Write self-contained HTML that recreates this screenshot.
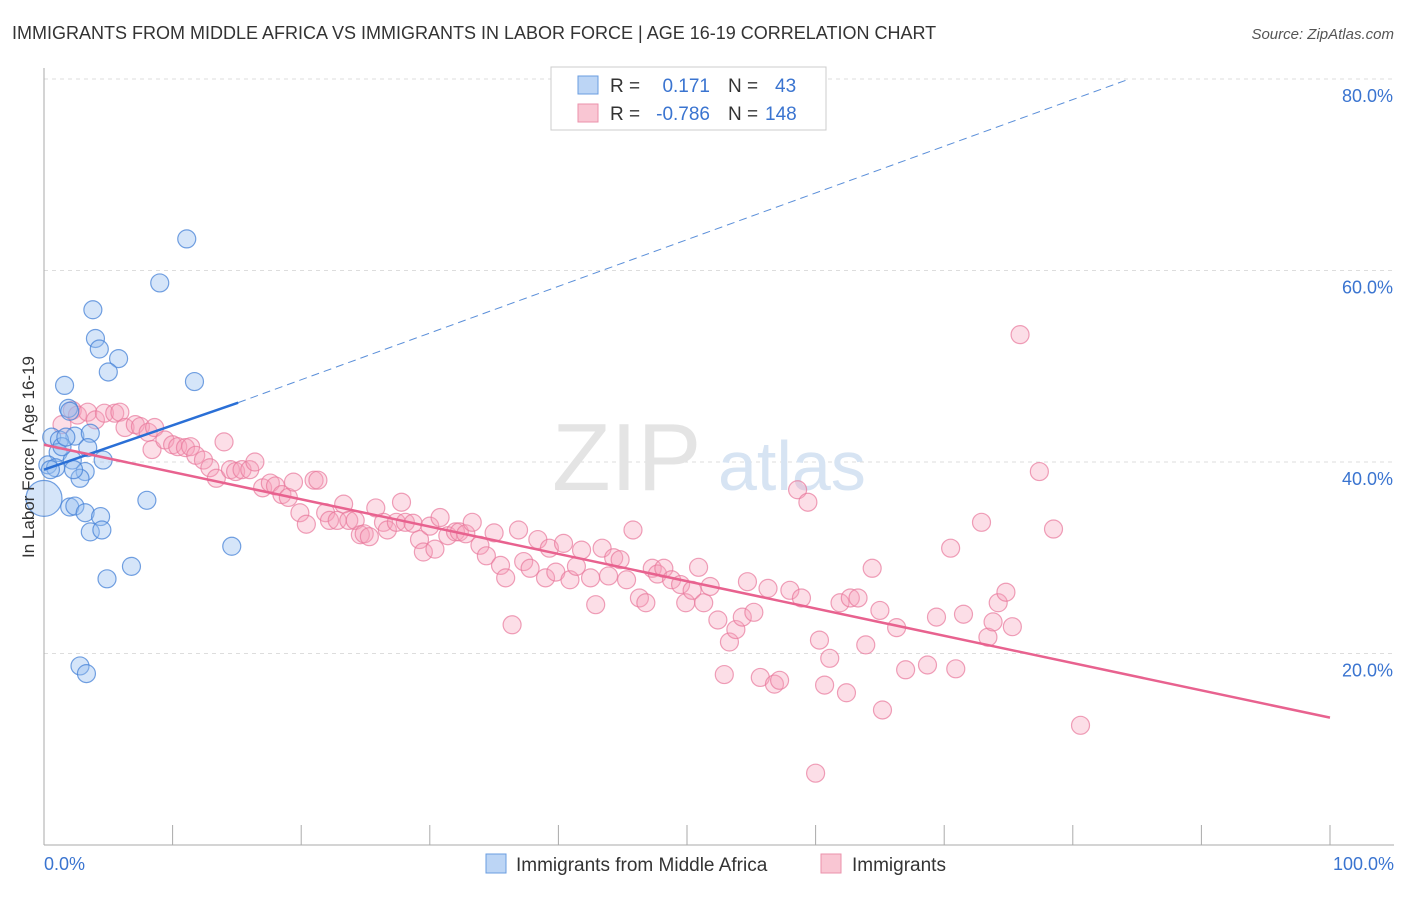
<!DOCTYPE html>
<html><head><meta charset="utf-8"><style>
body{margin:0;background:#fff;font-family:"Liberation Sans",sans-serif}
svg text{font-family:"Liberation Sans",sans-serif}
</style></head><body>
<svg id="chart" width="1406" height="892" xmlns="http://www.w3.org/2000/svg">
<text x="12" y="39" font-size="18" fill="#333">IMMIGRANTS FROM MIDDLE AFRICA VS IMMIGRANTS IN LABOR FORCE | AGE 16-19 CORRELATION CHART</text>
<text x="1394" y="39" font-size="15" fill="#555" text-anchor="end" font-style="italic">Source: ZipAtlas.com</text>
<g id="grid"></g>
<text x="552" y="490" font-size="96" fill="#e4e4e4" font-family="Liberation Serif">ZIP</text>
<text x="718" y="490" font-size="70" fill="#d7e4f3">atlas</text>
<g id="pink"></g>
<g id="blue"></g>
<g id="trends"></g>
<text transform="translate(34,457) rotate(-90)" font-size="17" fill="#333" text-anchor="middle">In Labor Force | Age 16-19</text>
<g>
<rect x="551" y="67" width="275" height="63" fill="#fff" stroke="#ccc"/>
<rect x="578" y="76" width="20" height="18" fill="#bcd5f5" stroke="#6a9de0"/>
<rect x="578" y="104" width="20" height="18" fill="#f9c6d3" stroke="#eb92ab"/>
<text x="610" y="92" font-size="19" fill="#333">R =</text>
<text x="710" y="92" font-size="19" fill="#3a74d0" text-anchor="end">0.171</text>
<text x="728" y="92" font-size="19" fill="#333">N =</text>
<text x="775" y="92" font-size="19" fill="#3a74d0">43</text>
<text x="610" y="120" font-size="19" fill="#333">R =</text>
<text x="710" y="120" font-size="19" fill="#3a74d0" text-anchor="end">-0.786</text>
<text x="728" y="120" font-size="19" fill="#333">N =</text>
<text x="765" y="120" font-size="19" fill="#3a74d0">148</text>
</g>
<g>
<rect x="486" y="854" width="20" height="19" fill="#bcd5f5" stroke="#6a9de0"/>
<text x="516" y="871" font-size="19" fill="#333">Immigrants from Middle Africa</text>
<rect x="821" y="854" width="20" height="19" fill="#f9c6d3" stroke="#eb92ab"/>
<text x="852" y="871" font-size="19" fill="#333">Immigrants</text>
</g>
</svg>
<script>
const yTicks=[20,40,60,80];
const yTickLabels=["20.0%","40.0%","60.0%","80.0%"];
const xTicks=[0,10,20,30,40,50,60,70,80,90,100];
const blueX=[11.1,9.0,3.8,4.0,4.3,5.8,5.0,1.6,11.7,1.9,2.0,2.4,3.6,0.6,1.2,1.1,2.2,0.3,0.9,4.6,3.2,2.8,2.3,8.0,2.0,2.4,3.2,4.4,3.6,4.5,14.6,6.8,4.9,2.8,3.3,0,1.4,0.5,3.4,1.7];
const blueY=[63.3,58.7,55.9,52.9,51.8,50.8,49.4,48.0,48.4,45.6,45.3,42.7,43.0,42.6,42.3,41.0,40.2,39.7,39.4,40.2,39.0,38.3,39.2,36.0,35.3,35.4,34.7,34.3,32.7,32.9,31.2,29.1,27.8,18.7,17.9,36.2,41.6,39.2,41.5,42.6];
const blueSize=[1,1,1,1,1,1,1,1,1,1,1,1,1,1,1,1,1,1,1,1,1,1,1,1,1,1,1,1,1,1,1,1,1,1,1,2,1,1,1,1];
const pinkX=[1.4,2.2,2.6,3.4,4.0,4.7,5.5,5.9,6.3,7.1,7.5,8.1,8.6,8.4,9.4,10.0,10.4,11.0,11.4,11.8,12.4,12.9,13.4,14.0,14.5,14.9,15.4,16.0,16.4,17.0,17.6,18.0,18.5,19.0,19.4,19.9,20.4,21.0,21.3,21.9,22.2,22.8,23.3,23.7,24.2,24.6,24.9,25.3,25.8,26.4,26.7,27.4,27.8,28.1,28.7,29.2,29.5,30.0,30.4,30.8,31.4,32.0,32.3,32.8,33.3,33.9,34.4,35.0,35.5,35.9,36.4,36.9,37.3,37.8,38.4,39.0,39.3,39.8,40.4,40.9,41.4,41.8,42.5,42.9,43.4,43.9,44.3,44.8,45.3,45.8,46.3,46.8,47.3,47.7,48.2,48.8,49.5,49.9,50.4,50.9,51.3,51.8,52.4,52.9,53.3,53.8,54.3,54.7,55.2,55.7,56.3,56.8,57.2,58.0,58.6,58.9,59.4,60.0,60.3,60.7,61.1,61.9,62.4,62.7,63.3,63.9,64.4,65.0,65.2,66.3,67.0,68.7,69.4,70.5,70.9,71.5,72.9,73.4,73.8,74.2,74.8,75.3,75.9,77.4,78.5,80.6];
const pinkY=[43.9,45.4,44.9,45.2,44.4,45.1,45.1,45.2,43.6,43.9,43.7,43.1,43.6,41.3,42.3,41.8,41.6,41.5,41.6,40.7,40.2,39.4,38.3,42.1,39.2,39.0,39.2,39.2,40.0,37.3,37.8,37.5,36.6,36.3,37.9,34.7,33.5,38.1,38.1,34.7,33.9,33.9,35.6,33.9,33.9,32.4,32.5,32.2,35.2,33.7,32.9,33.7,35.8,33.7,33.6,31.9,30.6,33.3,30.9,34.2,32.3,32.7,32.7,32.5,33.7,31.3,30.2,32.6,29.2,27.9,23.0,32.9,29.6,28.9,31.9,27.9,31.0,28.5,31.5,27.7,29.1,30.8,27.9,25.1,31.0,28.1,30.0,29.8,27.7,32.9,25.8,25.3,28.9,28.3,28.9,27.7,27.2,25.3,26.6,29.0,25.3,27.0,23.5,17.8,21.2,22.5,23.8,27.5,24.3,17.5,26.8,16.8,17.2,26.6,37.1,25.8,35.8,7.5,21.4,16.7,19.5,25.3,15.9,25.8,25.8,20.9,28.9,24.5,14.1,22.7,18.3,18.8,23.8,31.0,18.4,24.1,33.7,21.7,23.3,25.3,26.4,22.8,53.3,39.0,33.0,12.5];
const blueTrend=[[0,39.2],[15.1,46.2]];
const blueTrendExt=[[15.1,46.2],[84.4,80.0]];
const pinkTrend=[[0,41.8],[100,13.3]];

const NS="http://www.w3.org/2000/svg";
const X0=44,X1=1330,Y0=845,PXPER=9.575;
function sx(v){return X0+(X1-X0)*v/100;}
function sy(v){return Y0-v*PXPER;}
function mk(tag,attrs,parent){const e=document.createElementNS(NS,tag);for(const k in attrs)e.setAttribute(k,attrs[k]);parent.appendChild(e);return e;}
const grid=document.getElementById('grid');
yTicks.forEach((t,i)=>{
  const l=mk('line',{x1:44,x2:1394,y1:sy(t),y2:sy(t),stroke:'#ddd','stroke-dasharray':'4,4'},grid);
  
  
  const tx=mk('text',{x:1393,y:sy(t)+23,'font-size':18,fill:'#3a74d0','text-anchor':'end'},grid);
  tx.textContent=yTickLabels[i];
  
  
});
let ax=mk('line',{x1:44,x2:44,y1:68,y2:845,stroke:'#aaa'},grid);


let bx=mk('line',{x1:44,x2:1394,y1:845,y2:845,stroke:'#aaa'},grid);


xTicks.forEach(t=>{
  const l=mk('line',{x1:sx(t),x2:sx(t),y1:825,y2:845,stroke:'#aaa'},grid);
  
  
});
let xl=mk('text',{x:44,y:870,'font-size':18,fill:'#3a74d0'},grid);xl.textContent='0.0%';


let xr=mk('text',{x:1394,y:870,'font-size':18,fill:'#3a74d0','text-anchor':'end'},grid);xr.textContent='100.0%';



const pg=document.getElementById('pink');
pinkX.forEach((v,i)=>{
  const c=mk('circle',{cx:sx(v),cy:sy(pinkY[i]),r:9,fill:'rgba(245,160,185,0.35)',stroke:'rgba(232,120,155,0.7)','stroke-width':1.2},pg);
  
  
});
const bg=document.getElementById('blue');
blueX.forEach((v,i)=>{
  const c=mk('circle',{cx:sx(v),cy:sy(blueY[i]),r:9*blueSize[i],fill:'rgba(150,190,240,0.4)',stroke:'rgba(70,130,215,0.75)','stroke-width':1.2},bg);
  
  
});
const tg=document.getElementById('trends');
let l1=mk('line',{x1:sx(blueTrend[0][0]),y1:sy(blueTrend[0][1]),x2:sx(blueTrend[1][0]),y2:sy(blueTrend[1][1]),stroke:'#2a6fd6','stroke-width':2.5},tg);


let l2=mk('line',{x1:sx(blueTrendExt[0][0]),y1:sy(blueTrendExt[0][1]),x2:sx(blueTrendExt[1][0]),y2:sy(blueTrendExt[1][1]),stroke:'#5b8fd9','stroke-width':1,'stroke-dasharray':'8,5'},tg);


let l3=mk('line',{x1:sx(pinkTrend[0][0]),y1:sy(pinkTrend[0][1]),x2:sx(pinkTrend[1][0]),y2:sy(pinkTrend[1][1]),stroke:'#e8628f','stroke-width':2.5},tg);


</script>
</body></html>
